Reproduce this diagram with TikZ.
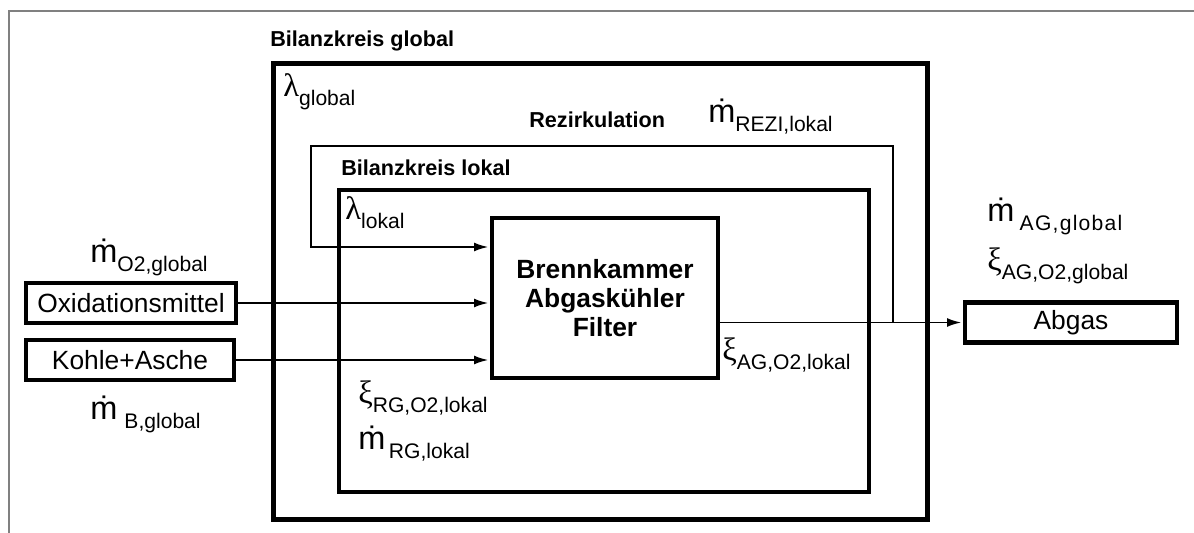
\documentclass[tikz,border=0pt]{standalone}
\usepackage{fontspec}
\setmainfont{Liberation Sans}
\newfontfamily\grfont{Liberation Serif}
\usetikzlibrary{arrows.meta,positioning}
\tikzset{
  pfeil/.style={line width=1pt,-{Latex[length=8pt,width=5pt]},shorten >=1pt},
  rahmen/.style={draw,line width=2.8pt,inner sep=0pt},
  kasten/.style={draw,line width=2.3pt,inner sep=0pt,font=\fontsize{15}{18}\selectfont},
  titel/.style={inner sep=0pt,anchor=base west,font=\bfseries\fontsize{12.3}{14}\selectfont},
  gr/.style={inner sep=0pt,anchor=base west},
}
\newcommand\gro[2]{{\fontsize{18.5}{18.5}\selectfont #1}\raisebox{-5pt}{\fontsize{12}{12}\selectfont #2}}

\begin{document}
\begin{tikzpicture}[x=0.02cm,y=-0.02cm]
  \useasboundingbox (0,0) rectangle (1194,533);
  \draw[gray,line width=0.6pt] (9,533) -- (9,11) -- (1194,11);
  % Bilanzkreise und Kaesten
  \node[rahmen,minimum width=13.07cm,minimum height=9.12cm] (glob) at (600.5,291.5) {};
  \node[rahmen,line width=2.3pt,minimum width=10.6cm,minimum height=6.04cm] (lok) at (604,341) {};
  \node[kasten,font=\bfseries\fontsize{15}{16.7}\selectfont,align=center,
    minimum width=4.52cm,minimum height=3.2cm] (bk) at (605,298) {Brennkammer\\Abgaskühler\\Filter};
  \node[kasten,minimum width=4.2cm,minimum height=0.8cm] (oxi) at (131,303) {Oxidationsmittel};
  \node[kasten,minimum width=4.16cm,minimum height=0.8cm] (kohle) at (130,360) {Kohle+Asche};
  \node[kasten,minimum width=4.24cm,minimum height=0.8cm] (abgas) at (1071,322.5) {Abgas};
  % Stroeme
  \draw[pfeil] (oxi.east) -- (oxi.east -| bk.west);
  \draw[pfeil] (kohle.east) -- (kohle.east -| bk.west);
  \draw[pfeil] (bk.east |- abgas.west) -- (abgas.west);
  \coordinate (rz) at (abgas.west -| 893,0);
  \coordinate (rzo) at (893,146);
  \coordinate (rzl) at (311,146);
  \coordinate (rze) at (bk.west |- 0,247);
  \draw[pfeil] (rz) -- (rzo) -- (rzl) |- (rze);
  % Beschriftung
  \node[titel] (tg) at (270,47) {Bilanzkreis global};
  \node[titel] (tl) at (341,176) {Bilanzkreis lokal};
  \node[titel] (trz) at (529,128) {Rezirkulation};
  \node[gr] (lg) at (283,97) {\gro{\grfont λ}{global}};
  \node[gr] (ll) at (345,220) {\gro{\grfont λ}{lokal}};
  \node[gr] (mrezi) at (708,123) {\gro{ṁ}{REZI,lokal}};
  \node[gr] (mo2) at (90,263) {\gro{ṁ}{O2,global}};
  \node[gr] (mb) at (90,420) {\gro{ṁ}{\hspace{4pt}B,global}};
  \node[gr] (mag) at (987,222) {\gro{ṁ}{\hspace{3pt}\addfontfeatures{LetterSpace=6}AG,global}};
  \node[gr] (xag) at (987,271) {\gro{\grfont ξ}{AG,O2,global}};
  \node[gr] (xagl) at (722,361) {\gro{\grfont ξ}{AG,O2,lokal}};
  \node[gr] (xrg) at (358,404) {\gro{\grfont ξ}{RG,O2,lokal}};
  \node[gr] (mrg) at (358,450) {\gro{ṁ}{\,RG,lokal}};
\end{tikzpicture}
\end{document}
